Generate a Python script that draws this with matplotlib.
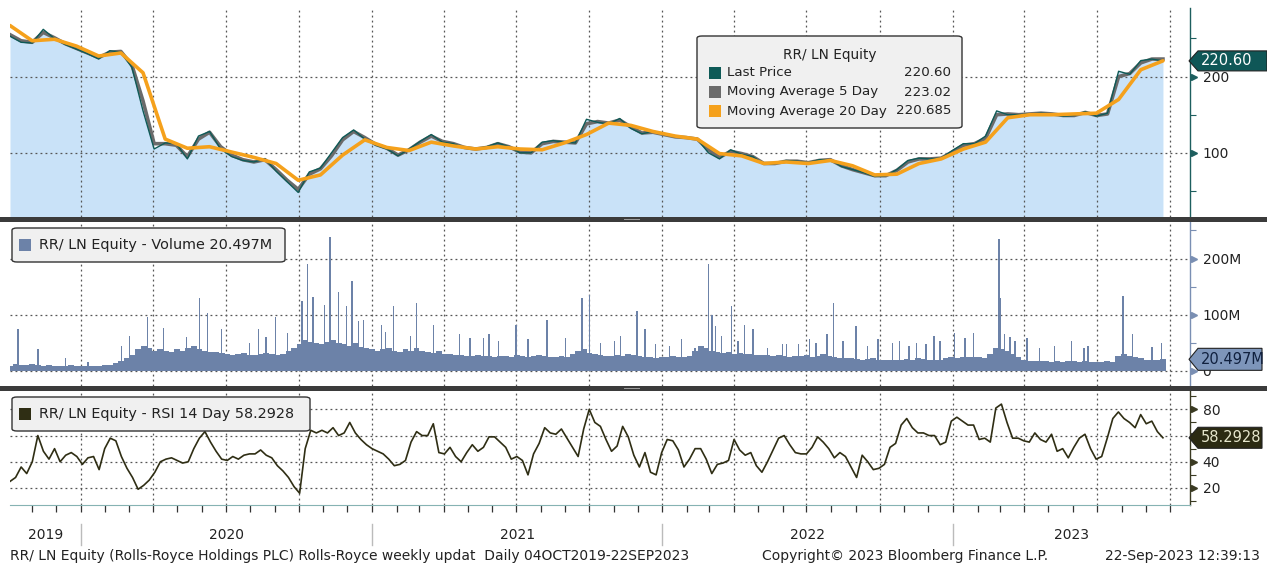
import numpy as np
import pandas as pd
import matplotlib
matplotlib.use("Agg")
import matplotlib.pyplot as plt
import matplotlib.dates as mdates
from matplotlib.patches import Rectangle, FancyBboxPatch, Polygon
from matplotlib.transforms import blended_transform_factory

plt.rcParams['font.family'] = ['DejaVu Sans']

# ---------------- data ----------------
start_date, end_date = '2019-10-04', '2023-09-22'
axis_end = '2023-10-26'

# Last price (GBp), roughly every two weeks
last_price = [253, 245, 244, 262, 250, 242, 236, 230, 223, 234,
              232, 212, 155, 105, 113, 112, 92, 122, 128, 105,
              95, 90, 88, 92, 76, 62, 48, 75, 80, 100,
              120, 130, 118, 110, 105, 96, 105, 115, 124, 114,
              112, 106, 105, 108, 113, 108, 100, 100, 114, 116,
              114, 113, 144, 140, 138, 145, 132, 125, 128, 124,
              121, 120, 118, 100, 92, 104, 98, 95, 85, 86,
              90, 89, 87, 91, 91, 82, 78, 74, 69, 70,
              78, 90, 93, 92, 93, 103, 112, 112, 122, 155,
              150, 150, 151, 152, 151, 148, 149, 154, 148, 152,
              207, 203, 221, 223, 220.60]
ma5 = [255, 247, 245, 258, 251, 243, 237, 231, 225, 232,
       233, 215, 168, 112, 112, 110, 95, 118, 127, 108,
       97, 91, 88, 91, 78, 64, 52, 72, 79, 96,
       117, 128, 120, 111, 106, 97, 104, 114, 122, 115,
       112, 107, 105, 107, 112, 108, 101, 100, 112, 115,
       114, 113, 138, 141, 139, 143, 134, 126, 127, 124,
       121, 120, 118, 104, 94, 102, 99, 95, 86, 86,
       89, 89, 87, 90, 91, 83, 78, 74, 70, 70,
       77, 88, 92, 92, 93, 101, 110, 112, 119, 150,
       151, 150, 151, 152, 151, 149, 149, 153, 149, 151,
       200, 204, 218, 223, 223.02]
# 20-day moving average, roughly every four weeks
ma20 = [267, 247, 249, 240, 227, 231, 205, 118, 106, 108,
        101, 94, 86, 64, 71, 97, 117, 107, 103, 114,
        109, 105, 108, 105, 104, 113, 124, 139, 136, 128,
        122, 118, 99, 96, 86, 88, 86, 90, 83, 71,
        72, 86, 92, 105, 114, 146, 150, 150, 151, 152,
        170, 209, 220.685]

# Weekly typical daily volume (millions of shares)
vol_base = [9, 12, 10, 11, 13, 10, 9, 10, 9, 8, 9, 10, 9, 8, 8, 9, 9, 10, 11,
            14, 18, 22, 28, 38,
            45, 40, 35, 38, 36, 34, 38,
            35, 40, 45, 38, 36, 34, 33, 32, 30, 28,
            30, 32, 29, 28, 30, 32, 30, 28, 30, 35,
            40, 48, 55, 52, 50, 48, 52, 55, 50, 48, 45, 50, 42, 40, 38,
            35, 38, 40, 36, 34, 38, 36, 40, 35, 33, 32, 35, 30, 30, 28,
            28, 27, 26, 28, 27, 26, 25, 27, 26, 25, 28, 26, 25, 27, 28, 26, 25, 24, 26, 25, 30, 35, 38, 32, 30,
            28, 27, 26, 28, 27, 30, 28, 26, 25, 24, 22, 24, 25, 26, 25,
            24, 26, 35, 45, 40, 36, 34, 32, 33, 30, 32, 30, 30, 29, 28,
            28, 27, 28, 26, 25, 26, 27, 28, 25, 26, 30, 27, 24, 22, 22,
            22, 21, 20, 21, 22, 20, 19, 20, 20, 19, 21, 20, 22, 21, 20, 19, 20, 22, 24, 23,
            25, 24, 25, 24, 23, 30, 40, 38, 35, 30,
            24, 20, 18, 17, 18, 17, 16, 17, 16, 18, 17, 16, 17, 16, 15, 16, 17, 16,
            26, 30, 27, 24, 22, 20, 19, 20, 20.497]
# Individual high-volume days (millions)
vol_spike_dates = ['2019-10-14', '2019-11-08', '2019-12-13', '2020-01-10', '2020-02-21', '2020-03-02',
                   '2020-03-25', '2020-04-14', '2020-05-13', '2020-05-29', '2020-06-08', '2020-06-26',
                   '2020-07-31', '2020-08-11', '2020-08-21', '2020-09-02', '2020-09-17', '2020-10-05',
                   '2020-10-12', '2020-10-19', '2020-11-02', '2020-11-09', '2020-11-20', '2020-11-30',
                   '2020-12-07', '2020-12-15', '2020-12-21', '2021-01-13', '2021-01-18', '2021-01-28',
                   '2021-02-18', '2021-02-26', '2021-03-19', '2021-04-21', '2021-05-04', '2021-05-21',
                   '2021-05-28', '2021-06-09', '2021-07-01', '2021-07-16', '2021-08-09', '2021-09-01',
                   '2021-09-22', '2021-10-01', '2021-10-15', '2021-11-02', '2021-11-09', '2021-11-30',
                   '2021-12-10', '2021-12-23', '2022-01-10', '2022-01-25', '2022-02-11', '2022-02-28',
                   '2022-03-04', '2022-03-09', '2022-03-16', '2022-03-29', '2022-04-06', '2022-04-14',
                   '2022-04-25', '2022-05-13', '2022-06-01', '2022-06-06', '2022-06-21', '2022-07-05',
                   '2022-07-13', '2022-07-27', '2022-08-04', '2022-08-16', '2022-09-01', '2022-09-16',
                   '2022-09-29', '2022-10-17', '2022-10-26', '2022-11-07', '2022-11-16', '2022-11-28',
                   '2022-12-08', '2022-12-16', '2023-01-03', '2023-01-16', '2023-01-27', '2023-02-28',
                   '2023-03-01', '2023-03-07', '2023-03-14', '2023-03-20', '2023-04-04', '2023-04-20',
                   '2023-05-09', '2023-05-30', '2023-06-15', '2023-06-20', '2023-08-03', '2023-08-15',
                   '2023-09-08', '2023-09-20']
vol_spike_values = [74, 38, 22, 16, 45, 62,
                    95, 76, 60, 130, 103, 74,
                    50, 74, 60, 95, 68, 125,
                    191, 132, 118, 238, 141, 115,
                    160, 88, 91, 82, 70, 115,
                    62, 121, 82, 65, 59, 59,
                    65, 53, 82, 56, 91, 59,
                    130, 135, 50, 53, 62, 106,
                    74, 47, 44, 56, 41, 191,
                    100, 80, 62, 115, 53, 82,
                    74, 41, 47, 47, 48, 56,
                    50, 65, 121, 53, 79, 44,
                    56, 50, 53, 44, 50, 47,
                    62, 53, 68, 59, 68, 235,
                    129, 65, 60, 53, 59, 41,
                    44, 53, 41, 44, 134, 65,
                    42, 50]

# Weekly RSI 14 day
rsi = [25, 28, 36, 31, 40, 60, 48, 42, 50, 40,
       45, 47, 44, 38, 43, 44, 34, 50, 58, 56,
       44, 35, 28, 19, 22, 26, 32, 40, 42, 43,
       41, 39, 40, 50, 58, 63, 55, 48, 42, 41,
       44, 42, 45, 46, 46, 49, 45, 43, 37, 33,
       28, 21, 16, 50, 64, 62, 64, 62, 66, 60,
       62, 70, 62, 57, 53, 50, 48, 46, 42, 37,
       38, 41, 55, 63, 60, 60, 69, 47, 46, 51,
       44, 40, 47, 53, 48, 51, 59, 59, 55, 51,
       42, 44, 41, 30, 46, 54, 66, 62, 61, 65,
       58, 51, 44, 65, 80, 70, 67, 57, 48, 52,
       67, 59, 45, 36, 47, 32, 30, 47, 57, 56,
       49, 36, 42, 50, 50, 42, 31, 38, 39, 41,
       57, 49, 45, 47, 37, 32, 40, 49, 58, 60,
       53, 47, 46, 46, 51, 59, 55, 50, 43, 47,
       44, 36, 28, 45, 40, 34, 35, 38, 51, 54,
       68, 73, 66, 62, 62, 60, 60, 53, 55, 71,
       74, 71, 68, 68, 57, 58, 55, 81, 84, 70,
       58, 58, 56, 55, 62, 57, 55, 61, 48, 50,
       43, 51, 58, 61, 50, 42, 44, 58, 73, 78,
       73, 70, 66, 76, 69, 71, 63, 58.2928]

year_labels = ['2019', '2020', '2021', '2022', '2023']

# ---------------- styling ----------------
C_FILL = '#c9e2f8'
C_PRICE = '#0e5a57'
C_MA5 = '#6b6b6b'
C_MA20 = '#f5a11c'
C_VOL = '#6c82a8'
C_RSI = '#2f2e14'
C_GRID = '#555555'
GRID_LS = (0, (1.5, 2.5))
TXT = '#222222'

W, H = 1267, 567
def fx(px):
    return px / W
def fy(py):
    return 1 - py / H

fig = plt.figure(figsize=(W / 100, H / 100), dpi=100)
fig.patch.set_facecolor('white')

L, R = 10, 1190
ax_p = fig.add_axes([fx(L), fy(217), fx(R) - fx(L), fy(8) - fy(217)])
ax_v = fig.add_axes([fx(L), fy(386), fx(R) - fx(L), fy(222) - fy(386)])
ax_r = fig.add_axes([fx(L), fy(505), fx(R) - fx(L), fy(391) - fy(505)])

price_dates = pd.date_range(start_date, end_date, periods=len(last_price))
ma20_dates = pd.date_range(start_date, end_date, periods=len(ma20))
weekly_dates = pd.date_range(start_date, end_date, periods=len(rsi))
vol_dates = pd.date_range(start_date, end_date, periods=len(vol_base))
spike_dates = pd.to_datetime(vol_spike_dates)

xlim = (pd.Timestamp(start_date), pd.Timestamp(axis_end))

# price panel
ax_p.fill_between(price_dates, last_price, 0, color=C_FILL, lw=0, zorder=1)
ax_p.plot(price_dates, ma5, color=C_MA5, lw=2.6, zorder=3)
ax_p.plot(price_dates, last_price, color=C_PRICE, lw=1.0, zorder=4)
ax_p.plot(ma20_dates, ma20, color=C_MA20, lw=2.6, zorder=5, solid_capstyle='round')
ax_p.set_ylim(15.8, 290)
ax_p.set_yticks([100, 200])
ax_p.set_yticks([50, 150, 250], minor=True)

# volume panel
ax_v.bar(vol_dates, vol_base, width=7.3, color=C_VOL, lw=0, zorder=2, antialiased=False)
ax_v.bar(spike_dates, vol_spike_values, width=1.8, color=C_VOL, lw=0, zorder=2)
ax_v.set_ylim(-27, 265)
ax_v.set_yticks([0, 100, 200])
ax_v.set_yticklabels(['0', '100M', '200M'])
ax_v.set_yticks([50, 150, 250], minor=True)

# rsi panel
ax_r.plot(weekly_dates, rsi, color=C_RSI, lw=1.2, zorder=3)
ax_r.set_ylim(7, 94)
ax_r.set_yticks([20, 40, 60, 80])
ax_r.set_yticklabels(['20', '40', '', '80'])
ax_r.set_yticks([10, 30, 50, 70, 90], minor=True)

spine_cols = {ax_p: '#1d5e5e', ax_v: '#7a8fb3', ax_r: '#3a3a22'}
for ax in (ax_p, ax_v, ax_r):
    ax.set_xlim(*xlim)
    ax.set_facecolor('white')
    ax.xaxis.set_major_locator(mdates.MonthLocator(bymonth=[1, 4, 7, 10]))
    ax.xaxis.set_minor_locator(mdates.MonthLocator())
    ax.grid(True, which='major', color=C_GRID, linestyle=GRID_LS, lw=0.9, zorder=1.5)
    for s in ('top', 'left', 'bottom'):
        ax.spines[s].set_visible(False)
    ax.spines['right'].set_color(spine_cols[ax])
    ax.spines['right'].set_linewidth(1.0)
    ax.yaxis.tick_right()
    ax.tick_params(axis='y', which='major', length=0, pad=9, labelsize=10, labelcolor=TXT)
    ax.tick_params(axis='y', which='minor', length=4, width=0.8, color=spine_cols[ax])
    ax.tick_params(axis='x', which='both', labelbottom=False, length=0)
    tr = ax.get_yaxis_transform()
    for t in ax.get_yticks():
        ax.plot([1.0035], [t], marker='>', ms=5, color=spine_cols[ax], transform=tr,
                clip_on=False, zorder=6)

ax_r.spines['bottom'].set_visible(True)
ax_r.spines['bottom'].set_color('#86b3b3')
ax_r.tick_params(axis='x', which='both', length=5, width=0.9, color='#333333', direction='out')

# separator bands
for y0, y1 in ((217, 222), (386, 391)):
    fig.add_artist(Rectangle((0, fy(y1)), 1, fy(y0) - fy(y1), transform=fig.transFigure,
                             color='#3b3b3b', lw=0, zorder=10))
    fig.add_artist(Rectangle((fx(624), fy(y0 + 3)), fx(16), 1.2 / H, transform=fig.transFigure,
                             color='#9a9a9a', lw=0, zorder=11))

# value tags on the right axis
def tag(ax, value, text, fc, tc, h=20, right=1265):
    disp = ax.transData.transform((mdates.date2num(xlim[0]), value))
    yc = H - fig.transFigure.inverted().transform(disp)[1] * H
    pts = [(fx(1189), fy(yc)), (fx(1198), fy(yc - h / 2)), (fx(right), fy(yc - h / 2)),
           (fx(right), fy(yc + h / 2)), (fx(1198), fy(yc + h / 2))]
    fig.add_artist(Polygon(pts, closed=True, transform=fig.transFigure, fc=fc, ec='#222222',
                           lw=0.8, zorder=12))
    fig.text(fx(1201), fy(yc), text, color=tc, fontsize=10.5, va='center', ha='left', zorder=13)

tag(ax_p, last_price[-1], f"{last_price[-1]:.2f}", '#0f5757', 'white', h=20, right=1267)
tag(ax_v, vol_base[-1], f"{vol_base[-1]:.3f}M", '#7d95ba', '#10203e', h=22, right=1262)
tag(ax_r, rsi[-1], f"{rsi[-1]:.4f}", '#2b2a12', '#e6e6cc', h=21, right=1262)

# legend boxes
def box(x0, y0, x1, y1):
    fig.add_artist(FancyBboxPatch((fx(x0), fy(y1)), fx(x1) - fx(x0), fy(y0) - fy(y1),
                                  boxstyle='round,pad=0,rounding_size=0.004',
                                  transform=fig.transFigure, fc='#f0f0f0', ec='#333333',
                                  lw=1.0, zorder=14))

def swatch(x0, yc, col, size=12):
    fig.add_artist(Rectangle((fx(x0), fy(yc + size / 2)), fx(size), size / H,
                             transform=fig.transFigure, fc=col, ec='none', zorder=15))

box(697, 36, 962, 128)
fig.text(fx(830), fy(55), 'RR/ LN Equity', ha='center', va='center', fontsize=9.8, color=TXT, zorder=16)
rows = [('Last Price', f"{last_price[-1]:.2f}", C_PRICE, 73),
        ('Moving Average 5 Day', f"{ma5[-1]:.2f}", C_MA5, 92),
        ('Moving Average 20 Day', f"{ma20[-1]:.3f}", C_MA20, 111)]
for lab, val, col, yy in rows:
    swatch(709, yy, col)
    fig.text(fx(727), fy(yy), lab, ha='left', va='center', fontsize=9.6, color=TXT, zorder=16)
    fig.text(fx(951), fy(yy), val, ha='right', va='center', fontsize=9.6, color=TXT, zorder=16)

box(12, 228, 285, 262)
swatch(19, 245, C_VOL)
fig.text(fx(39), fy(245), f"RR/ LN Equity - Volume {vol_base[-1]:.3f}M", ha='left', va='center',
         fontsize=10.4, color=TXT, zorder=16)

box(12, 397, 310, 431)
swatch(19, 414, C_RSI)
fig.text(fx(39), fy(414), f"RR/ LN Equity - RSI 14 Day {rsi[-1]:.4f}", ha='left', va='center',
         fontsize=10.4, color=TXT, zorder=16)

# year labels and separators
trx = blended_transform_factory(ax_r.transData, fig.transFigure)
x0n, x1n = mdates.date2num(xlim[0]), mdates.date2num(xlim[1])
for yl in year_labels:
    a = max(mdates.date2num(pd.Timestamp(f'{yl}-01-01')), x0n)
    b = min(mdates.date2num(pd.Timestamp(f'{int(yl) + 1}-01-01')), x1n)
    fig.text((a + b) / 2, fy(535), yl, transform=trx, ha='center', va='center', fontsize=10,
             color=TXT)
    if int(yl) > 2019:
        fig.add_artist(plt.Line2D([a, a], [fy(524), fy(545)], transform=trx, color='#bbbbbb', lw=1))

# footer
fig.text(fx(10), fy(556), 'RR/ LN Equity (Rolls-Royce Holdings PLC) Rolls-Royce weekly updat  Daily 04OCT2019-22SEP2023',
         ha='left', va='center', fontsize=10, color=TXT)
fig.text(fx(762), fy(556), 'Copyright\u00a9 2023 Bloomberg Finance L.P.', ha='left', va='center',
         fontsize=10, color=TXT)
fig.text(fx(1260), fy(556), '22-Sep-2023 12:39:13', ha='right', va='center', fontsize=10, color=TXT)

fig.savefig('out.png', dpi=100, facecolor='white')
